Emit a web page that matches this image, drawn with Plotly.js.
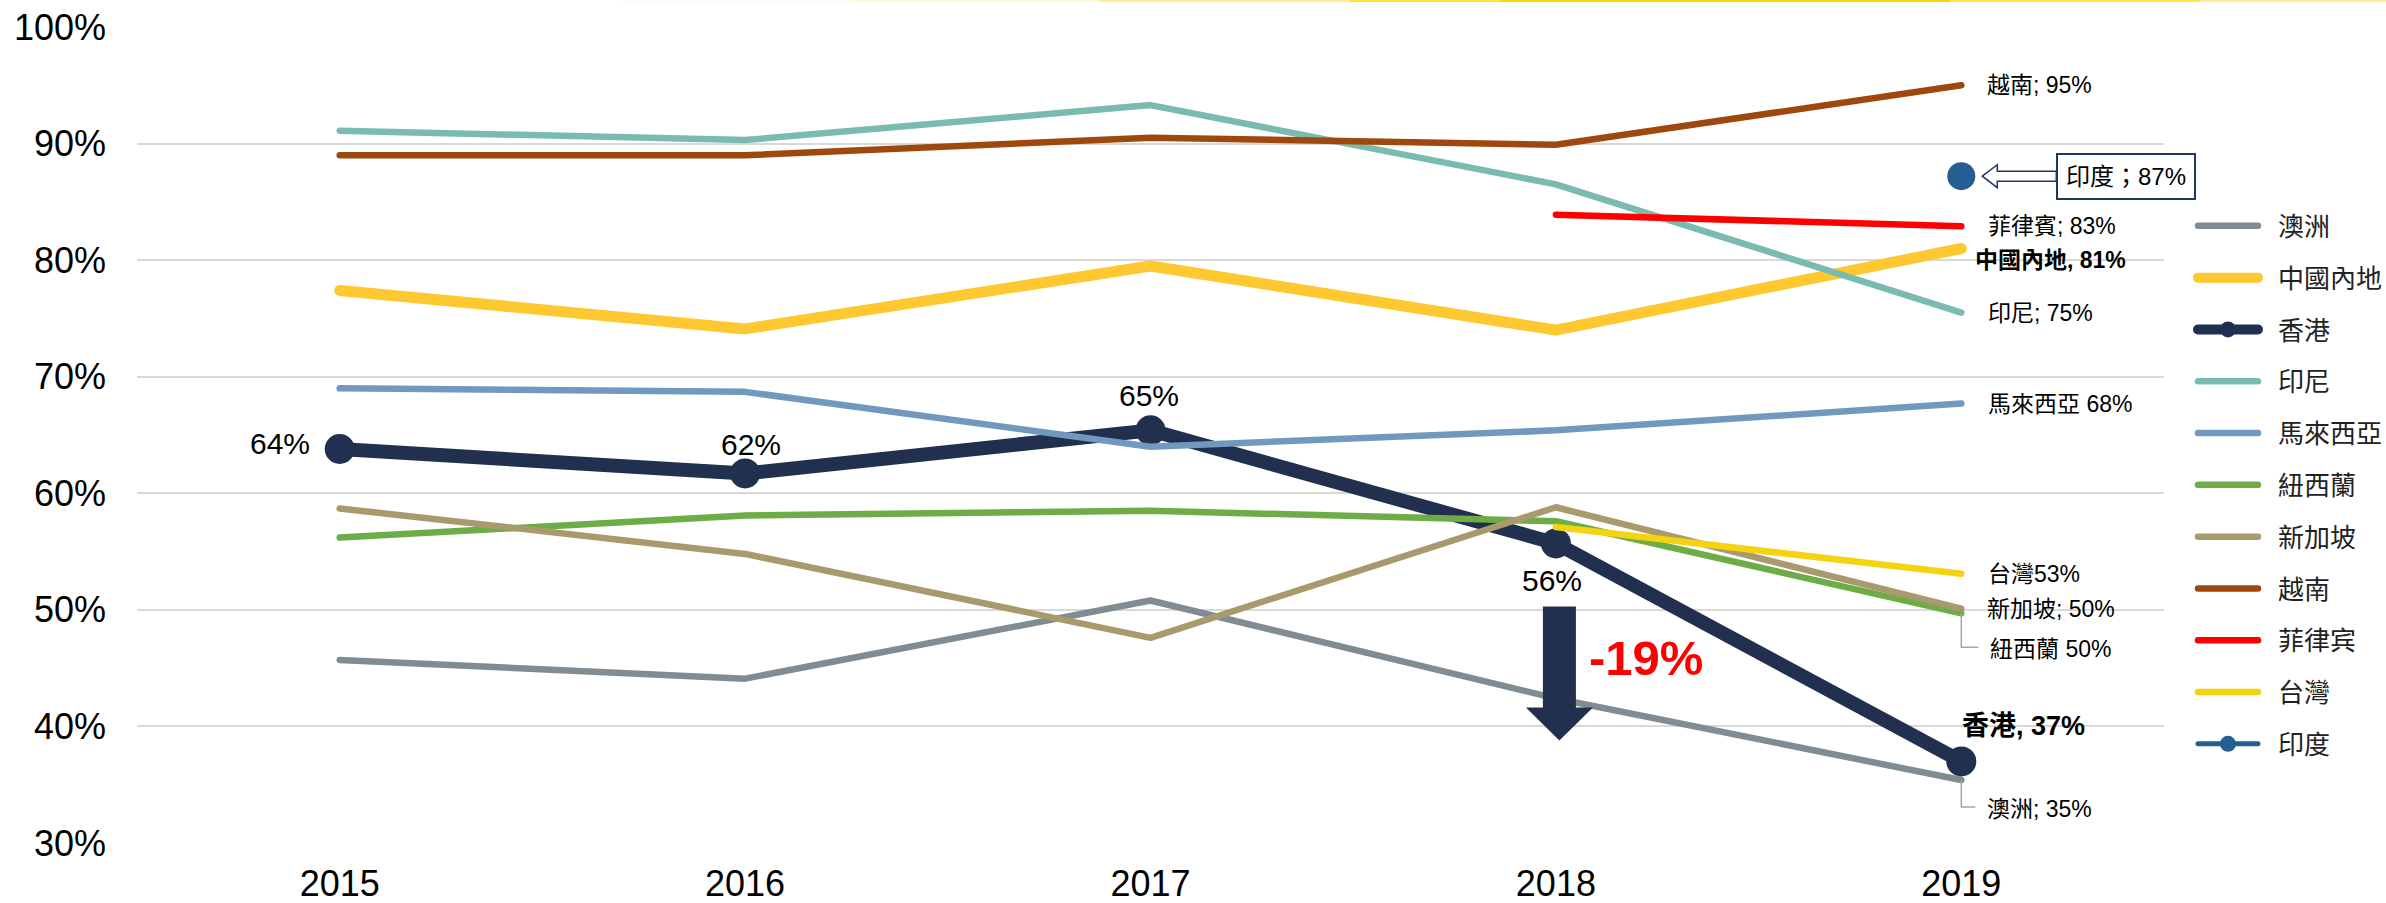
<!DOCTYPE html>
<html>
<head>
<meta charset="utf-8">
<script src="https://cdn.plot.ly/plotly-3.0.1.min.js"></script>
<style>
html,body{margin:0;padding:0;background:#fff;}
#chart{width:2386px;height:903px;}
.scatterlayer .js-line{stroke-linecap:round;stroke-linejoin:round;}
.legendlines path{stroke-linecap:round;}
.legend .legendtext{transform:translateX(15px);}
.legend .scrollbox{clip-path:none !important;}
</style>
</head>
<body>
<div id="chart"></div>
<script>
// ---- data ----
const years = ['2015', '2016', '2017', '2018', '2019'];
const yearsLate = ['2018', '2019'];
const yearsLast = ['2019'];

const australia   = [0.457, 0.441, 0.508, 0.424, 0.354];
const china       = [0.774, 0.741, 0.795, 0.740, 0.810];
const hongkong    = [0.638, 0.617, 0.654, 0.557, 0.370];
const indonesia   = [0.911, 0.903, 0.933, 0.865, 0.755];
const malaysia    = [0.690, 0.687, 0.640, 0.654, 0.677];
const newzealand  = [0.562, 0.581, 0.585, 0.576, 0.497];
const singapore   = [0.587, 0.548, 0.476, 0.588, 0.501];
const vietnam     = [0.890, 0.890, 0.905, 0.899, 0.950];
const philippines = [0.839, 0.829];
const taiwan      = [0.571, 0.531];
const india       = [0.872];

const hkPointLabels = ['64%', '62%', '65%', '56%'];
const changeLabel = '-19%';
const yTickVals = [0.3, 0.4, 0.5, 0.6, 0.7, 0.8, 0.9, 1.0];
const yTickText = ['30%', '40%', '50%', '60%', '70%', '80%', '90%', '100%'];

// category position helper (index on the category axis)
const pos = (yr) => years.indexOf(yr);

// ---- series configuration (styles) ----
const FONT = 'Liberation Sans, Arial, Noto Sans CJK TC, sans-serif';
const series = [
  {name: '澳洲',     x: years,     y: australia,   color: '#808B92', width: 6.5, label: '澳洲; 35%',     dx: 24, dy: -29, size: 23},
  {name: '中國內地', x: years,     y: china,       color: '#FDC830', width: 11,  label: '<b>中國內地, 81%</b>', dx: 12, dy: -12, size: 23},
  {name: '香港',     x: years,     y: hongkong,    color: '#21304F', width: 14,  marker: 30, label: '<b>香港, 37%</b>', dx: -1, dy: 35, size: 27},
  {name: '印尼',     x: years,     y: indonesia,   color: '#7ABBB0', width: 6.5, label: '印尼; 75%',     dx: 25, dy: 0, size: 23},
  {name: '馬來西亞', x: years,     y: malaysia,    color: '#7199BF', width: 6.5, label: '馬來西亞 68%',  dx: 25, dy: 0, size: 23},
  {name: '紐西蘭',   x: years,     y: newzealand,  color: '#6DAC46', width: 6.5, label: '紐西蘭 50%',    dx: 27, dy: -36, size: 23},
  {name: '新加坡',   x: years,     y: singapore,   color: '#A99A6E', width: 6.5, label: '新加坡; 50%',   dx: 24, dy: 0, size: 23},
  {name: '越南',     x: years,     y: vietnam,     color: '#9E480E', width: 6.5, label: '越南; 95%',     dx: 24, dy: 0, size: 23},
  {name: '菲律宾',   x: yearsLate, y: philippines, color: '#FF0000', width: 6.5, label: '菲律賓; 83%',   dx: 25, dy: 0, size: 23},
  {name: '台灣',     x: yearsLate, y: taiwan,      color: '#F5D311', width: 6.5, label: '台灣53%',       dx: 25, dy: 0, size: 23},
  {name: '印度',     x: yearsLast, y: india,       color: '#255E91', width: 5,   marker: 28}
];

const traces = series.map((s, i) => {
  const t = {
    type: 'scatter',
    x: s.x, y: s.y, name: s.name,
    mode: s.marker ? 'lines+markers' : 'lines',
    line: {color: s.color, width: s.width},
    legendgroup: 'g' + i,
    hoverinfo: 'skip'
  };
  if (s.marker) t.marker = {size: s.marker, color: s.color};
  return t;
});

const annotations = [];
series.forEach(s => {
  if (!s.label) return;
  const n = s.y.length - 1;
  annotations.push({
    x: pos(s.x[n]), y: s.y[n], xref: 'x', yref: 'y',
    text: s.label, showarrow: false,
    xanchor: 'left', yanchor: 'middle',
    xshift: s.dx, yshift: s.dy,
    font: {family: FONT, size: s.size, color: '#000'}
  });
});

const hkOffsets = [
  {xanchor: 'right', xshift: -28, yshift: 5},
  {xanchor: 'center', xshift: 6, yshift: 29},
  {xanchor: 'center', xshift: -2, yshift: 35},
  {xanchor: 'center', xshift: -4, yshift: -37}
];
hkPointLabels.forEach((t, i) => {
  annotations.push(Object.assign({
    x: pos(years[i]), y: hongkong[i], xref: 'x', yref: 'y',
    text: t, showarrow: false, yanchor: 'middle',
    font: {family: FONT, size: 30, color: '#000'}
  }, hkOffsets[i]));
});

annotations.push({
  x: pos(years[3]), y: hongkong[3], xref: 'x', yref: 'y',
  text: '<b>' + changeLabel + '</b>', showarrow: false,
  xanchor: 'left', yanchor: 'middle', xshift: 31, yshift: -115,
  font: {family: FONT, size: 49, color: '#FF0000'}
});

annotations.push({
  x: pos(yearsLast[0]), y: india[0], xref: 'x', yref: 'y',
  text: '印度；87%', showarrow: false,
  xanchor: 'left', yanchor: 'middle', xshift: 95, yshift: 0,
  bordercolor: '#203864', borderwidth: 2, borderpad: 8, bgcolor: '#fff',
  font: {family: FONT, size: 24, color: '#000'}
});

const shapes = [
  {type: 'path', xref: 'x', yref: 'y', xsizemode: 'pixel', ysizemode: 'pixel',
   xanchor: pos(years[3]), yanchor: hongkong[3],
   path: 'M-13,-63 L20,-63 L20,-164 L37,-164 L3.5,-197 L-30,-164 L-13,-164 Z',
   fillcolor: '#21304F', line: {width: 0}, layer: 'above'},
  {type: 'path', xref: 'x', yref: 'y', xsizemode: 'pixel', ysizemode: 'pixel',
   xanchor: pos(yearsLast[0]), yanchor: india[0],
   path: 'M21,0 L36,11.5 L36,5 L95,5 L95,-5 L36,-5 L36,-11.5 Z',
   fillcolor: '#fff', line: {color: '#203864', width: 1.5}, layer: 'above'},
  {type: 'path', xref: 'x', yref: 'y', xsizemode: 'pixel', ysizemode: 'pixel',
   xanchor: pos(years[4]), yanchor: newzealand[4],
   path: 'M0,0 L0,-34 L17,-34', fillcolor: 'rgba(0,0,0,0)', line: {color: '#A6A6A6', width: 1.5}},
  {type: 'path', xref: 'x', yref: 'y', xsizemode: 'pixel', ysizemode: 'pixel',
   xanchor: pos(years[4]), yanchor: australia[4],
   path: 'M0,0 L0,-27 L14,-27', fillcolor: 'rgba(0,0,0,0)', line: {color: '#A6A6A6', width: 1.5}}
];

const topSegs = [[620, 850, 0.06], [850, 1100, 0.18], [1100, 1350, 0.45], [1350, 1500, 0.75], [1500, 1950, 1], [1950, 2200, 0.7], [2200, 2386, 0.45]];
topSegs.forEach(([a, b, o]) => {
  shapes.push({type: 'line', xref: 'paper', yref: 'paper',
    x0: (a - 137) / 2027, x1: (b - 137) / 2027, y0: 1 + 26 / 816, y1: 1 + 26 / 816,
    line: {color: 'rgba(255,215,0,' + o + ')', width: 2}});
});

const layout = {
  width: 2386, height: 903,
  margin: {l: 137, r: 222, t: 27, b: 60, pad: 0},
  paper_bgcolor: '#fff', plot_bgcolor: '#fff',
  font: {family: FONT, color: '#000'},
  showlegend: true,
  legend: {
    x: 1.0143, xanchor: 'left', y: 0.785, yanchor: 'top',
    traceorder: 'grouped', tracegroupgap: 15, itemwidth: 60,
    font: {family: FONT, size: 26, color: '#222'},
    bgcolor: 'rgba(0,0,0,0)'
  },
  xaxis: {
    type: 'category', categoryorder: 'array', categoryarray: years,
    range: [-0.5, 4.5], showgrid: false, zeroline: false, showline: false,
    ticks: '', tickfont: {family: FONT, size: 36, color: '#000'},
    ticklabelstandoff: 16, fixedrange: true
  },
  yaxis: {
    range: [0.3, 1.0], tickvals: yTickVals, ticktext: yTickText,
    showgrid: true, gridcolor: '#D9D9D9', gridwidth: 2,
    zeroline: false, showline: false, ticks: '',
    tickfont: {family: FONT, size: 36, color: '#000'},
    ticklabelstandoff: 30, fixedrange: true
  },
  annotations: annotations,
  shapes: shapes,
  hovermode: false
};

Plotly.newPlot('chart', traces, layout, {displayModeBar: false, staticPlot: true});
</script>
</body>
</html>
